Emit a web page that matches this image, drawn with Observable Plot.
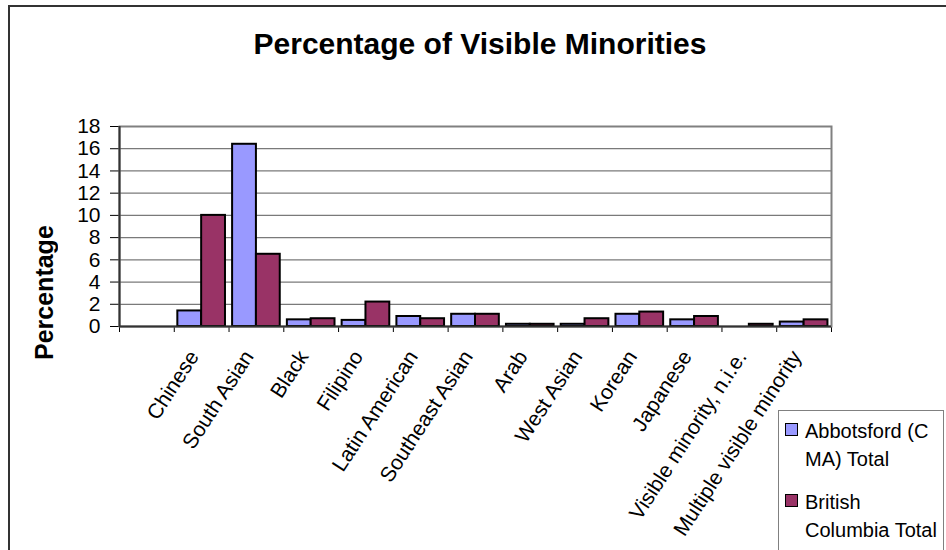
<!DOCTYPE html>
<html>
<head>
<meta charset="utf-8">
<script src="https://cdn.jsdelivr.net/npm/d3@7"></script>
<script src="https://cdn.jsdelivr.net/npm/@observablehq/plot@0.6"></script>
<style>
  html, body { margin: 0; padding: 0; background: #fff; }
  #chart { position: relative; width: 946px; height: 550px; overflow: hidden;
           font-family: "Liberation Sans", Arial, sans-serif; color: #000; }
  #outer { position: absolute; left: 8px; top: 5px; width: 1000px; height: 700px;
           border-left: 2px solid #333; border-top: 2px solid #333; box-sizing: border-box; }
  #title { position: absolute; left: 0; width: 960px; top: 26px; text-align: center;
           font-size: 30px; font-weight: bold; line-height: 36px; }
  #ytitle { position: absolute; left: 30px; top: 226px; height: 134px; width: 28px; line-height: 28px;
            text-align: center; font-size: 25px; font-weight: bold;
            writing-mode: vertical-rl; transform: rotate(180deg); white-space: nowrap; }
  #plot { position: absolute; left: 0; top: 0; }
  #legend { position: absolute; left: 778px; top: 410px; width: 166px; height: 200px;
            border: 1px solid #808080; box-sizing: border-box; background: #fff; }
  .item { position: absolute; left: 6px; font-size: 20px; line-height: 28px; }
  .swatch { position: absolute; left: 0; top: 6px; width: 11px; height: 11px; border: 1.5px solid #000; }
  .label { position: absolute; left: 20px; top: 0; white-space: nowrap; }
</style>
</head>
<body>
<div id="chart">
  <div id="outer"></div>
  <div id="title">Percentage of Visible Minorities</div>
  <div id="plot"></div>
  <div id="ytitle">Percentage</div>
  <div id="legend"></div>
</div>
<script>
// Visible minority groups (first slot left unlabelled and empty)
const categories = ["", "Chinese", "South Asian", "Black", "Filipino", "Latin American",
  "Southeast Asian", "Arab", "West Asian", "Korean", "Japanese",
  "Visible minority, n.i.e.", "Multiple visible minority"];

// Share of population (%)
const abbotsford = [null, 1.4, 16.4, 0.6, 0.55, 0.9, 1.1, 0.2, 0.2, 1.1, 0.6, 0, 0.4];
const britishColumbia = [null, 10.0, 6.5, 0.7, 2.2, 0.7, 1.1, 0.2, 0.7, 1.3, 0.9, 0.2, 0.6];

const seriesNames = ["Abbotsford (CMA) Total", "British Columbia Total"];
const legendLines = [["Abbotsford (C", "MA) Total"], ["British", "Columbia Total"]];
const seriesColors = ["#9999FF", "#993366"];
const yTicks = [0, 2, 4, 6, 8, 10, 12, 14, 16, 18];

// one row per bar
const rows = [];
categories.forEach((c, i) => {
  [abbotsford, britishColumbia].forEach((vals, s) => {
    const v = vals[i];
    if (v != null && v > 0) rows.push({category: c, index: i, series: s, value: v});
  });
});

// each category occupies one unit on x; the two bars share it with a small gap
const gap = 0.065;
const half = (1 - 2 * gap) / 2;

const chart = Plot.plot({
  width: 946,
  height: 550,
  marginLeft: 119,
  marginRight: 115,
  marginTop: 126,
  marginBottom: 224,
  style: {fontFamily: "'Liberation Sans', Arial, sans-serif", fontSize: "21px", background: "transparent", overflow: "visible"},
  x: {domain: [0, categories.length], ticks: categories.length, tickFormat: () => "", tickSize: 6, label: null},
  y: {domain: [0, 18], ticks: 9, tickSize: 9, tickPadding: 10, label: null},
  color: {domain: [0, 1], range: seriesColors},
  marks: [
    Plot.ruleY(yTicks.slice(1), {stroke: "#7a7a7a", strokeWidth: 1.2}),
    Plot.frame({stroke: "#808080", strokeWidth: 2}),
    Plot.rectY(rows, {
      x1: d => d.index + gap + d.series * half,
      x2: d => d.index + gap + (d.series + 1) * half,
      y: "value",
      fill: d => d.series,
      stroke: "#000",
      strokeWidth: 2
    }),
    Plot.ruleX([0], {stroke: "#333", strokeWidth: 2}),
    Plot.ruleY([0], {stroke: "#333", strokeWidth: 2}),
    Plot.text(categories.map((c, i) => ({c, i})), {
      x: d => d.i + 0.5,
      text: "c",
      frameAnchor: "bottom",
      rotate: -57,
      textAnchor: "end",
      dx: -2,
      dy: 30,
      fontSize: 21,
      fill: "#000"
    })
  ]
});
document.getElementById("plot").appendChild(chart);

// legend
const legend = document.getElementById("legend");
legendLines.forEach((lines, s) => {
  const item = document.createElement("div");
  item.className = "item";
  item.style.top = (s === 0 ? 6 : 77) + "px";
  item.title = seriesNames[s];
  const sw = document.createElement("div");
  sw.className = "swatch";
  sw.style.background = seriesColors[s];
  const lab = document.createElement("div");
  lab.className = "label";
  lab.innerHTML = lines.join("<br>");
  item.appendChild(sw);
  item.appendChild(lab);
  legend.appendChild(item);
});
</script>
</body>
</html>
